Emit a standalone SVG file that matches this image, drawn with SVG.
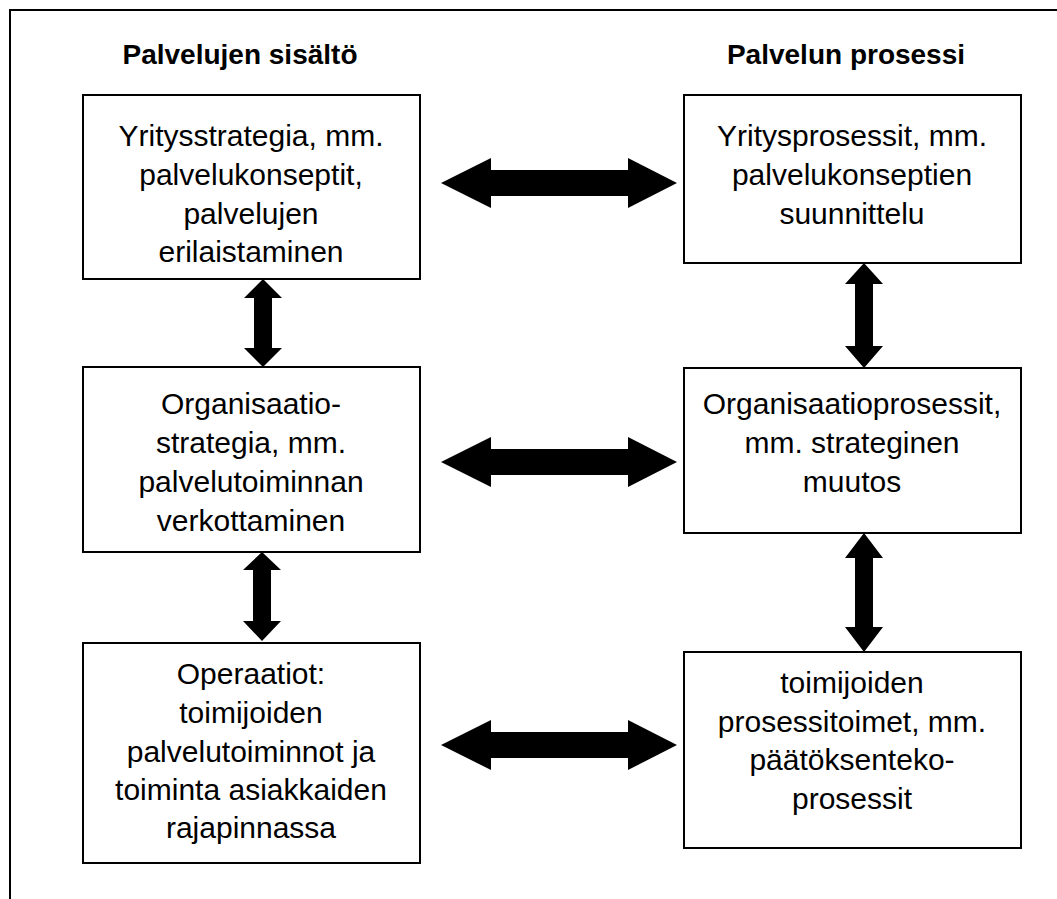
<svg xmlns="http://www.w3.org/2000/svg" width="1057" height="899" viewBox="0 0 1057 899">
<style>
.box{fill:#fff;stroke:#000;stroke-width:2}
.frame{stroke:#000;stroke-width:2;fill:none}
.t{font-family:"Liberation Sans",Arial,sans-serif;font-size:30px;text-anchor:middle;fill:#000}
.h{font-family:"Liberation Sans",Arial,sans-serif;font-size:28px;font-weight:bold;text-anchor:middle;fill:#000}
.arr{fill:#000}
</style>
<rect width="1057" height="899" fill="#fff"/>
<g id="frame">
<path class="frame" d="M10,899 V10 H1057"/>
</g>
<g id="headers">
<text class="h" x="240" y="64">Palvelujen sisältö</text>
<text class="h" x="846" y="64">Palvelun prosessi</text>
</g>
<g id="connectors">
<path class="arr" d="M441,183 L491,158 L491,170 L628,170 L628,158 L677,183 L628,208 L628,196 L491,196 L491,208 Z"/>
<path class="arr" d="M441,462 L491,437 L491,449 L628,449 L628,437 L677,462 L628,487 L628,475 L491,475 L491,487 Z"/>
<path class="arr" d="M441,745 L491,720 L491,732 L628,732 L628,720 L677,745 L628,770 L628,758 L491,758 L491,770 Z"/>
<path class="arr" d="M263,279 L282,298 L272,298 L272,348 L282,348 L263,367 L244,348 L254,348 L254,298 L244,298 Z"/>
<path class="arr" d="M864,263 L883,284 L873,284 L873,346 L883,346 L864,368 L845,346 L855,346 L855,284 L845,284 Z"/>
<path class="arr" d="M262,552 L281,570 L271,570 L271,621 L281,621 L262,641 L243,621 L253,621 L253,570 L243,570 Z"/>
<path class="arr" d="M864,533 L883,558 L873,558 L873,627 L883,627 L864,652 L845,627 L855,627 L855,558 L845,558 Z"/>
</g>
<g id="node-l1">
<rect class="box" x="83" y="95" width="337" height="184"/>
<text class="t" x="251" y="146">Yritysstrategia, mm.</text>
<text class="t" x="251" y="185">palvelukonseptit,</text>
<text class="t" x="251" y="224">palvelujen</text>
<text class="t" x="251" y="262">erilaistaminen</text>
</g>
<g id="node-r1">
<rect class="box" x="684" y="95" width="337" height="168"/>
<text class="t" x="852" y="146">Yritysprosessit, mm.</text>
<text class="t" x="852" y="185">palvelukonseptien</text>
<text class="t" x="852" y="224">suunnittelu</text>
</g>
<g id="node-l2">
<rect class="box" x="83" y="367" width="337" height="185"/>
<text class="t" x="251" y="414">Organisaatio-</text>
<text class="t" x="251" y="453">strategia, mm.</text>
<text class="t" x="251" y="492">palvelutoiminnan</text>
<text class="t" x="251" y="531">verkottaminen</text>
</g>
<g id="node-r2">
<rect class="box" x="684" y="368" width="337" height="165"/>
<text class="t" x="852" y="414">Organisaatioprosessit,</text>
<text class="t" x="852" y="453">mm. strateginen</text>
<text class="t" x="852" y="492">muutos</text>
</g>
<g id="node-l3">
<rect class="box" x="83" y="643" width="337" height="220"/>
<text class="t" x="251" y="684">Operaatiot:</text>
<text class="t" x="251" y="723">toimijoiden</text>
<text class="t" x="251" y="762">palvelutoiminnot ja</text>
<text class="t" x="251" y="800">toiminta asiakkaiden</text>
<text class="t" x="251" y="838">rajapinnassa</text>
</g>
<g id="node-r3">
<rect class="box" x="684" y="652" width="337" height="196"/>
<text class="t" x="852" y="693">toimijoiden</text>
<text class="t" x="852" y="732">prosessitoimet, mm.</text>
<text class="t" x="852" y="770">päätöksenteko-</text>
<text class="t" x="852" y="809">prosessit</text>
</g>
</svg>
